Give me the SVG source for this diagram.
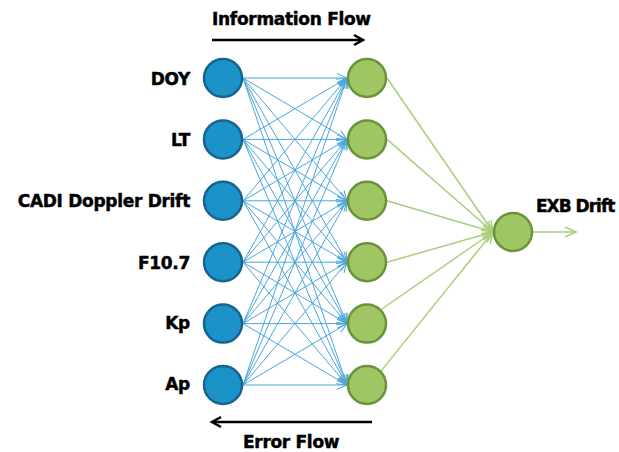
<svg xmlns="http://www.w3.org/2000/svg" width="619" height="452" viewBox="0 0 619 452">
<style>
.lbl{font-family:"DejaVu Sans",sans-serif;font-weight:bold;font-size:17px;fill:#000;stroke:#000;stroke-width:0.45;letter-spacing:-0.3px}
.bl{stroke:#4ba6dc;stroke-width:1;fill:none}
.gl{stroke:#a9cf7e;stroke-width:1.5;fill:none}
.in{fill:#1b93c9;stroke:#17648f;stroke-width:2.5}
.hid{fill:#9fc663;stroke:#6b933a;stroke-width:2.5}
.flow{stroke:#000;stroke-width:2.5;fill:none}
</style>
<defs>
<marker id="ab" markerUnits="userSpaceOnUse" markerWidth="14" markerHeight="14" refX="12" refY="7" orient="auto"><path d="M2,2.5 L12,7 L2,11.5" fill="none" stroke="#4ba6dc" stroke-width="1"/></marker>
<marker id="ag" markerUnits="userSpaceOnUse" markerWidth="16" markerHeight="16" refX="14" refY="8" orient="auto"><path d="M3,3 L14,8 L3,13" fill="none" stroke="#a9cf7e" stroke-width="1.5"/></marker>
<marker id="ak" markerUnits="userSpaceOnUse" markerWidth="16" markerHeight="16" refX="13" refY="8" orient="auto"><path d="M4,3 L13,8 L4,13" fill="none" stroke="#000" stroke-width="2.5"/></marker>
</defs>
<g id="connectors">
<g class="bl" marker-end="url(#ab)">
<path d="M243,78 L347,78"/><path d="M243,78 L347,139.4"/><path d="M243,78 L347,200.8"/><path d="M243,78 L347,262.2"/><path d="M243,78 L347,323.6"/><path d="M243,78 L347,385"/>
<path d="M243,139.4 L347,78"/><path d="M243,139.4 L347,139.4"/><path d="M243,139.4 L347,200.8"/><path d="M243,139.4 L347,262.2"/><path d="M243,139.4 L347,323.6"/><path d="M243,139.4 L347,385"/>
<path d="M243,200.8 L347,78"/><path d="M243,200.8 L347,139.4"/><path d="M243,200.8 L347,200.8"/><path d="M243,200.8 L347,262.2"/><path d="M243,200.8 L347,323.6"/><path d="M243,200.8 L347,385"/>
<path d="M243,262.2 L347,78"/><path d="M243,262.2 L347,139.4"/><path d="M243,262.2 L347,200.8"/><path d="M243,262.2 L347,262.2"/><path d="M243,262.2 L347,323.6"/><path d="M243,262.2 L347,385"/>
<path d="M243,323.6 L347,78"/><path d="M243,323.6 L347,139.4"/><path d="M243,323.6 L347,200.8"/><path d="M243,323.6 L347,262.2"/><path d="M243,323.6 L347,323.6"/><path d="M243,323.6 L347,385"/>
<path d="M243,385 L347,78"/><path d="M243,385 L347,139.4"/><path d="M243,385 L347,200.8"/><path d="M243,385 L347,262.2"/><path d="M243,385 L347,323.6"/><path d="M243,385 L347,385"/>
</g>
<g class="gl" marker-end="url(#ag)">
<path d="M387,78 L493,232"/><path d="M387,139.4 L493,232"/><path d="M387,200.8 L493,232"/><path d="M387,262.2 L493,232"/><path d="M381.1,309.5 L493,232"/><path d="M381.1,370.9 L493,232"/>
<path d="M533,232 L576,232"/>
</g>
<path class="flow" d="M212,40 L363,40" marker-end="url(#ak)"/>
<path class="flow" d="M372,422 L212,422" marker-end="url(#ak)"/>
</g>
<g id="n-doy"><circle class="in" cx="223" cy="78" r="19"/><text class="lbl" x="190" y="84.5" text-anchor="end">DOY</text></g>
<g id="n-lt"><circle class="in" cx="223" cy="139.4" r="19"/><text class="lbl" x="190" y="146" text-anchor="end">LT</text></g>
<g id="n-cadi"><circle class="in" cx="223" cy="200.8" r="19"/><text class="lbl" x="190" y="207" text-anchor="end">CADI Doppler Drift</text></g>
<g id="n-f107"><circle class="in" cx="223" cy="262.2" r="19"/><text class="lbl" x="190" y="268.5" text-anchor="end">F10.7</text></g>
<g id="n-kp"><circle class="in" cx="223" cy="323.6" r="19"/><text class="lbl" x="190" y="329" text-anchor="end">Kp</text></g>
<g id="n-ap"><circle class="in" cx="223" cy="385" r="19"/><text class="lbl" x="190" y="390" text-anchor="end">Ap</text></g>
<g id="h1"><circle class="hid" cx="367" cy="78" r="19"/></g>
<g id="h2"><circle class="hid" cx="367" cy="139.4" r="19"/></g>
<g id="h3"><circle class="hid" cx="367" cy="200.8" r="19"/></g>
<g id="h4"><circle class="hid" cx="367" cy="262.2" r="19"/></g>
<g id="h5"><circle class="hid" cx="367" cy="323.6" r="19"/></g>
<g id="h6"><circle class="hid" cx="367" cy="385" r="19"/></g>
<g id="out"><circle class="hid" cx="513" cy="232" r="19"/><text class="lbl" x="536" y="212" style="letter-spacing:-1px">EXB Drift</text></g>
<g id="info-flow"><text class="lbl" x="212" y="25">Information Flow</text></g>
<g id="error-flow"><text class="lbl" x="243" y="448">Error Flow</text></g>
</svg>
